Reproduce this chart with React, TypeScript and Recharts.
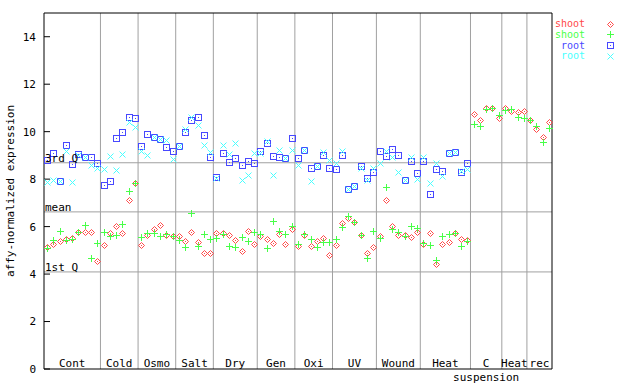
import React from 'react';
import { ScatterChart, Scatter, XAxis, YAxis, ReferenceLine, Label } from 'recharts';

const groupNames = ['Cont', 'Cold', 'Osmo', 'Salt', 'Dry', 'Gen', 'Oxi', 'UV', 'Wound', 'Heat', 'C', 'Heat', 'rec'];
const groupSubNames = ['', '', '', '', '', '', '', '', '', '', 'suspension', '', ''];
const groupSizes = [9, 6, 6, 6, 7, 6, 6, 7, 7, 8, 5, 4, 4];
const yTicks = [0, 2, 4, 6, 8, 10, 12, 14];
const refNames = ['3rd Q', 'mean', '1st Q'];
const refValues = [8.69, 6.62, 4.09];

// shoot, replicate 1 (red)
const shootA = [
  5.15, 5.25, 5.38, 5.48, 5.52, 5.76, 5.76, 5.76, 4.55,
  5.21, 5.72, 6.01, 5.72, 7.12, 7.82,
  5.21, 5.63, 5.89, 6.05, 5.63, 5.59,
  5.59, 5.38, 5.76, 5.34, 4.88, 4.88,
  5.72, 5.72, 5.63, 5.42, 4.96, 5.8, 5.25,
  5.59, 5.46, 5.3, 5.68, 5.25, 5.89,
  5.17, 5.63, 5.17, 5.38, 5.51, 4.79,
  5.21, 6.14, 6.35, 6.18, 5.63, 4.88, 5.13,
  5.59, 7.11, 6.01, 5.63, 5.63, 5.55, 5.76,
  5.25, 5.72, 4.41, 5.25, 5.34, 5.72, 5.46, 5.42,
  10.73, 10.48, 10.99, 10.99, 10.56,
  10.99, 10.86, 10.82, 10.86,
  10.48, 10.1, 9.76, 10.4,
];

// shoot, replicate 2 (green)
const shootB = [
  5.08, 5.42, 5.8, 5.42, 5.46, 5.76, 6.05, 4.66, 5.31,
  5.76, 5.59, 5.63, 6.1, 7.49, 7.82,
  5.55, 5.72, 5.72, 5.59, 5.68, 5.59,
  5.42, 5.13, 6.56, 5.17, 5.68, 5.46,
  5.51, 5.68, 5.17, 5.13, 5.55, 5.38, 5.76,
  5.68, 5.08, 6.22, 5.8, 5.68, 6.01,
  5.25, 5.68, 5.46, 5.13, 5.34, 5.34,
  5.46, 5.97, 6.43, 6.18, 5.63, 4.66, 5.8,
  5.51, 7.66, 5.89, 5.76, 5.59, 6.01, 5.93,
  5.3, 5.21, 4.58, 5.59, 5.68, 5.72, 5.17, 5.38,
  10.31, 10.22, 10.94, 10.99, 10.69,
  10.9, 10.94, 10.61, 10.56,
  10.48, 10.22, 9.55, 10.14,
];

// root, replicate 1 (blue)
const rootA = [
  8.81, 9.09, 7.92, 9.43, 8.63, 9.05, 8.92, 8.92, 8.67,
  7.74, 7.91, 9.72, 9.97, 10.6, 10.56,
  9.38, 9.89, 9.79, 9.68, 9.34, 9.17,
  9.41, 9.97, 10.48, 10.6, 9.85, 8.92,
  8.08, 9.09, 8.71, 8.88, 8.58, 8.75, 8.67,
  9.17, 9.51, 8.96, 8.92, 8.88, 9.72,
  8.88, 9.22, 8.46, 8.54, 9.0, 8.46,
  8.42, 9.0, 7.6, 7.72, 8.54, 8.04, 8.29,
  9.17, 8.96, 9.26, 9.0, 7.95, 8.75, 8.25,
  8.75, 7.36, 8.42, 8.33, 9.09, 9.13, 8.29, 8.67,
  null, null, null, null, null,
  null, null, null, null,
  null, null, null, null,
];

// root, replicate 2 (cyan)
const rootB = [
  7.88, 7.95, 7.92, 9.2, 7.88, 9.0, 8.92, 8.58, 8.48,
  8.42, 8.98, 8.39, 9.05, 10.4, 10.2,
  9.19, 9.0, 9.79, 9.68, 9.65, 8.84,
  9.41, 10.1, 10.6, 10.27, 9.43, 9.13,
  8.04, 9.43, 9.05, 9.51, 7.95, 8.16, 9.09,
  9.09, 9.59, 8.16, 9.22, 8.88, 9.22,
  8.58, 9.22, 7.91, 8.54, 9.13, 8.79,
  8.67, 9.17, 7.6, 7.72, 8.46, 7.95, 8.46,
  8.67, 9.17, 8.92, 8.29, 7.95, 8.92, 7.99,
  8.92, 7.82, 8.67, 8.12, 9.09, 9.13, 8.33, 8.42,
  null, null, null, null, null,
  null, null, null, null,
  null, null, null, null,
];

const RED = '#ff4848';
const GREEN = '#48ff48';
const BLUE = '#4848ff';
const CYAN = '#48ffff';
const GRAY = '#a0a0a0';
const FONT = '"DejaVu Sans Mono", monospace';

const total = groupSizes.reduce((a, b) => a + b, 0);
const bounds: number[] = [];
const centers: number[] = [];
groupSizes.reduce((start, size) => {
  centers.push(start + size / 2);
  if (start + size < total) bounds.push(start + size);
  return start + size;
}, 0);

const toPoints = (vals: (number | null)[]) =>
  vals.map((v, i) => ({ x: i + 0.5, y: v })).filter((p) => p.y !== null);

// snap to pixel centres so the 1px marks stay sharp
const px = (v: number) => Math.round(v) + 0.5;

const Diamond = ({ cx, cy, color }: any) => {
  const x = px(cx), y = px(cy);
  return (
    <g>
      <polygon points={`${x},${y - 3} ${x + 3},${y} ${x},${y + 3} ${x - 3},${y}`} fill="none" stroke={color} strokeWidth={1} />
      <rect x={x - 0.5} y={y - 0.5} width={1} height={1} fill={color} />
    </g>
  );
};
const Plus = ({ cx, cy, color }: any) => {
  const x = px(cx), y = px(cy);
  return (
    <g stroke={color} strokeWidth={1} shapeRendering="crispEdges">
      <line x1={x - 3.5} y1={y} x2={x + 3.5} y2={y} />
      <line x1={x} y1={y - 3.5} x2={x} y2={y + 3.5} />
    </g>
  );
};
const Square = ({ cx, cy, color }: any) => {
  const x = px(cx), y = px(cy);
  return (
    <g shapeRendering="crispEdges">
      <rect x={x - 3} y={y - 3} width={6} height={6} fill="none" stroke={color} strokeWidth={1} />
      <rect x={x - 0.5} y={y - 0.5} width={1} height={1} fill={color} />
    </g>
  );
};
const Cross = ({ cx, cy, color }: any) => {
  const x = px(cx), y = px(cy);
  return (
    <g stroke={color} strokeWidth={1}>
      <line x1={x - 3} y1={y - 3} x2={x + 3} y2={y + 3} />
      <line x1={x - 3} y1={y + 3} x2={x + 3} y2={y - 3} />
    </g>
  );
};

const series = [
  { name: 'shoot', data: toPoints(shootA), color: RED, Mark: Diamond },
  { name: 'shoot', data: toPoints(shootB), color: GREEN, Mark: Plus },
  { name: 'root', data: toPoints(rootA), color: BLUE, Mark: Square },
  { name: 'root', data: toPoints(rootB), color: CYAN, Mark: Cross },
];

const GroupTick = (props: any) => {
  const { x, y, index } = props;
  return (
    <g>
      <text x={x} y={y - 2} textAnchor="middle" fontSize={11} fill="#000" fontFamily={FONT}>
        {groupNames[index]}
      </text>
      {groupSubNames[index] && (
        <text x={x} y={y + 12} textAnchor="middle" fontSize={11} fill="#000" fontFamily={FONT}>
          {groupSubNames[index]}
        </text>
      )}
    </g>
  );
};

export default function App() {
  return (
    <div style={{ position: 'absolute', left: 0, top: 0, width: 640, height: 384, background: '#fff', fontFamily: FONT }}>
      <ScatterChart width={640} height={384} margin={{ top: 13, right: 0, bottom: 0, left: 0 }}>
        <XAxis
          type="number"
          dataKey="x"
          domain={[0, total]}
          ticks={centers}
          interval={0}
          tickLine={false}
          tickSize={0}
          tickMargin={0}
          height={15}
          axisLine={{ stroke: '#000' }}
          tick={<GroupTick />}
        />
        <YAxis
          type="number"
          dataKey="y"
          domain={[0, 15]}
          ticks={yTicks}
          width={44}
          tickSize={-6}
          tickMargin={14}
          axisLine={{ stroke: '#000' }}
          tickLine={{ stroke: '#000' }}
          tick={{ fill: '#000', fontSize: 11, fontFamily: FONT }}
        >
          <Label
            value="affy-normalized expression"
            angle={-90}
            position="insideLeft"
            offset={10}
            style={{ textAnchor: 'middle', fontSize: 11, fontFamily: FONT, fill: '#000' }}
          />
        </YAxis>
        <YAxis
          yAxisId="r"
          orientation="right"
          type="number"
          domain={[0, 15]}
          ticks={yTicks}
          width={88}
          tickSize={-6}
          tick={false}
          axisLine={{ stroke: '#000' }}
          tickLine={{ stroke: '#000' }}
        />
        {bounds.map((b) => (
          <ReferenceLine key={'b' + b} x={b} stroke={GRAY} />
        ))}
        {refValues.map((v, i) => (
          <ReferenceLine
            key={refNames[i]}
            y={v}
            stroke={GRAY}
            label={{ value: refNames[i], position: 'insideBottomLeft', offset: 1, fill: '#000', fontSize: 11, fontFamily: FONT }}
          />
        ))}
        <ReferenceLine y={15} stroke="#000" />
        {series.map((s, i) => (
          <Scatter
            key={i}
            name={s.name}
            data={s.data}
            isAnimationActive={false}
            shape={(p: any) => <s.Mark cx={p.cx} cy={p.cy} color={s.color} />}
          />
        ))}
      </ScatterChart>
      {series.map((s, i) => (
        <div key={i} style={{ position: 'absolute', top: 19 + i * 10.8, left: 520, width: 65, height: 10, textAlign: 'right', fontSize: 10, lineHeight: '10px', color: s.color }}>
          {s.name}
        </div>
      ))}
      <svg style={{ position: 'absolute', left: 600, top: 14 }} width={20} height={50}>
        {series.map((s, i) => (
          <s.Mark key={i} cx={9.5} cy={9.5 + i * 10.8} color={s.color} />
        ))}
      </svg>
    </div>
  );
}
